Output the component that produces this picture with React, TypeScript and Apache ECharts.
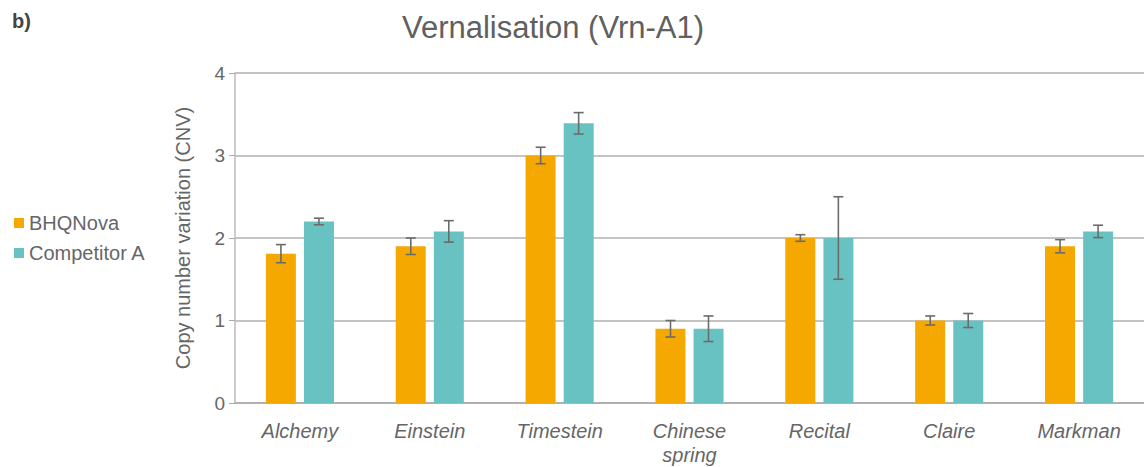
import React, { useEffect, useRef } from "react";
import * as echarts from "echarts";

const categories = ["Alchemy", "Einstein", "Timestein", "Chinese\nspring", "Recital", "Claire", "Markman"];
const seriesNames = ["BHQNova", "Competitor A"];
const bhqValues = [1.81, 1.9, 3.0, 0.9, 2.0, 1.0, 1.9];
const bhqErrors = [0.11, 0.1, 0.1, 0.1, 0.04, 0.055, 0.08];
const compValues = [2.2, 2.08, 3.39, 0.9, 2.0, 1.0, 2.08];
const compErrors = [0.04, 0.13, 0.13, 0.155, 0.5, 0.085, 0.075];
const yTicks = [0, 1, 2, 3, 4];

const COLORS = ["#F5A800", "#69C2C2"];
const FONT = "'Liberation Sans', Arial, sans-serif";
const TEXT = "#666";

export default function App() {
  const ref = useRef<HTMLDivElement>(null);
  useEffect(() => {
    if (!ref.current) return;
    const chart = echarts.init(ref.current, null, { renderer: "svg" });
    const errSeries = (vals: number[], errs: number[], offset: number, name: string) => ({
      type: "custom",
      name: name + " err",
      z: 10,
      data: vals.map((v, i) => [i, v - errs[i], v + errs[i]]),
      encode: { x: 0, y: [1, 2] },
      renderItem: (params: any, api: any) => {
        const idx = api.value(0);
        const lo = api.coord([idx, api.value(1)]);
        const hi = api.coord([idx, api.value(2)]);
        const x = lo[0] + offset;
        const cap = 5;
        const style = { stroke: "#6b6b6b", lineWidth: 1.6 };
        return {
          type: "group",
          children: [
            { type: "line", shape: { x1: x, y1: lo[1], x2: x, y2: hi[1] }, style },
            { type: "line", shape: { x1: x - cap, y1: lo[1], x2: x + cap, y2: lo[1] }, style },
            { type: "line", shape: { x1: x - cap, y1: hi[1], x2: x + cap, y2: hi[1] }, style },
          ],
        };
      },
    });
    chart.setOption({
      animation: false,
      backgroundColor: "#fff",
      textStyle: { fontFamily: FONT },
      title: {
        text: "Vernalisation (Vrn-A1)",
        left: 548,
        textAlign: "center",
        top: 7,
        textStyle: { fontFamily: FONT, fontSize: 31, fontWeight: "normal", color: "#606060" },
      },
      graphic: [
        {
          type: "text",
          left: 12,
          top: 11,
          style: { text: "b)", fontFamily: FONT, fontSize: 20, fontWeight: "bold", fill: "#444" },
        },
      ],
      legend: {
        orient: "vertical",
        left: 9,
        top: 208,
        itemWidth: 10,
        itemHeight: 10,
        itemGap: 10,
        icon: "rect",
        data: seriesNames,
        textStyle: { fontFamily: FONT, fontSize: 20, color: TEXT },
      },
      grid: { left: 235, right: -6, top: 73, bottom: 60 },
      xAxis: {
        type: "category",
        data: categories,
        axisLine: { lineStyle: { color: "#aaa", width: 1.5 } },
        axisTick: { show: false },
        axisLabel: {
          fontFamily: FONT,
          fontSize: 20,
          fontStyle: "italic",
          color: TEXT,
          margin: 16,
          lineHeight: 24,
        },
      },
      yAxis: {
        type: "value",
        min: 0,
        max: 4,
        interval: 1,
        name: "Copy number variation (CNV)",
        nameLocation: "middle",
        nameGap: 42,
        nameTextStyle: { fontFamily: FONT, fontSize: 20, color: TEXT },
        axisLine: { show: true, lineStyle: { color: "#bbb", width: 1.5 } },
        axisTick: { show: true, length: 6, lineStyle: { color: "#aaa" } },
        axisLabel: {
          fontFamily: FONT,
          fontSize: 19,
          color: TEXT,
          margin: 10,
          formatter: (v: number) => (yTicks.includes(v) ? String(v) : ""),
        },
        splitLine: { lineStyle: { color: "#b0b0b0", width: 1.5 } },
      },
      series: [
        {
          type: "bar",
          name: seriesNames[0],
          data: bhqValues,
          barWidth: 30,
          barGap: "27%",
          itemStyle: { color: COLORS[0] },
        },
        {
          type: "bar",
          name: seriesNames[1],
          data: compValues,
          barWidth: 30,
          barGap: "27%",
          itemStyle: { color: COLORS[1] },
        },
        errSeries(bhqValues, bhqErrors, -19, seriesNames[0]),
        errSeries(compValues, compErrors, 19, seriesNames[1]),
      ],
    });
    return () => chart.dispose();
  }, []);
  return (
    <div
      ref={ref}
      style={{ position: "fixed", left: 0, top: 0, width: 1144, height: 467 }}
    />
  );
}
